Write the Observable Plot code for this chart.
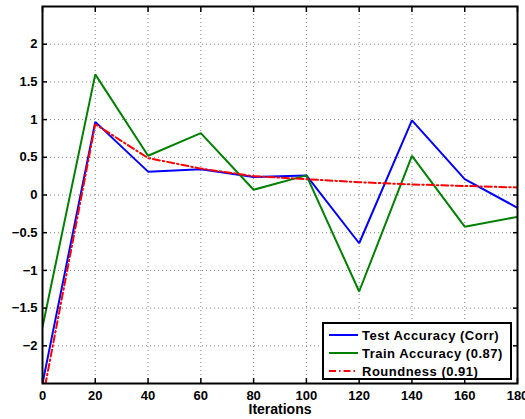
<!DOCTYPE html>
<html>
<head>
<meta charset="utf-8">
<script src="https://cdn.jsdelivr.net/npm/d3@7"></script>
<script src="https://cdn.jsdelivr.net/npm/@observablehq/plot@0.6"></script>
<style>
  html, body { margin: 0; padding: 0; background: #fff; }
  #wrap { position: relative; width: 525px; height: 419px; }
  #wrap svg text { font-family: "Liberation Sans", Arial, sans-serif !important; font-size: 13px !important; font-weight: bold !important; fill: #000; }
  #wrap svg g.xlabel text { font-size: 14px !important; }
  #legend {
    position: absolute; left: 322px; top: 322px; width: 186px; height: 54px;
    border: 2px solid #000; background: #fff;
    font: bold 13px "Liberation Sans", Arial, sans-serif; color: #000; letter-spacing: 0.5px;
  }
  .row { position: absolute; left: 0; height: 18px; display: flex; align-items: center; white-space: nowrap; }
  .row svg { margin-left: 5px; margin-right: 4px; }
</style>
</head>
<body>
<div id="wrap"></div>
<script>
const iterations = [0, 20, 40, 60, 80, 100, 120, 140, 160, 180];
const testAcc   = [-2.5, 0.97, 0.31, 0.34, 0.24, 0.26, -0.64, 0.99, 0.21, -0.17];
const trainAcc  = [-1.75, 1.60, 0.52, 0.82, 0.07, 0.26, -1.28, 0.52, -0.42, -0.29];
const roundness = [-2.71, 0.94, 0.49, 0.35, 0.25, 0.21, 0.17, 0.14, 0.12, 0.10];

const seriesNames = ["Test Accuracy (Corr)", "Train Accuracy (0.87)", "Roundness (0.91)"];
const seriesColors = ["#0000ff", "#008000", "#ff0000"];
const seriesDash = [null, null, "7,3,1.5,3"];
const xTicks = [0, 20, 40, 60, 80, 100, 120, 140, 160, 180];
const yTicks = [-2, -1.5, -1, -0.5, 0, 0.5, 1, 1.5, 2];
const xLabel = "Iterations";

const seriesValues = [testAcc, trainAcc, roundness];
const rows = [];
seriesValues.forEach((vals, s) => vals.forEach((v, i) => rows.push({series: seriesNames[s], x: iterations[i], y: v})));

const gridStyle = {stroke: "#808080", strokeOpacity: 1, strokeWidth: 1, strokeDasharray: "1,3"};
const font = "'Liberation Sans', Arial, sans-serif";

const lineMarks = seriesNames.map((name, s) =>
  Plot.line(rows.filter(d => d.series === name), {
    x: "x", y: "y", stroke: seriesColors[s], strokeWidth: 2,
    strokeDasharray: seriesDash[s], clip: true, strokeLinejoin: "miter"
  })
);

const chart = Plot.plot({
  width: 525,
  height: 419,
  marginLeft: 42,
  marginRight: 8,
  marginTop: 6,
  marginBottom: 36,
  style: {fontFamily: font, fontSize: "13px", fontWeight: "bold", color: "#000", background: "#fff", overflow: "visible"},
  x: {domain: [0, 180]},
  y: {domain: [-2.5, 2.5]},
  marks: [
    Plot.gridX(xTicks.slice(1, -1), gridStyle),
    Plot.gridY(yTicks, gridStyle),
    ...lineMarks,
    Plot.axisX(xTicks, {anchor: "bottom", tickSize: 0, tickPadding: 7, label: null, fill: "#000", fontSize: 13}),
    Plot.axisY(yTicks, {anchor: "left", tickSize: 0, tickPadding: 5, label: null, fill: "#000", fontSize: 13, tickFormat: d => d3.format("")(d).replace("-", "\u2212")}),
    Plot.axisX(xTicks, {anchor: "bottom", tickSize: -5, text: null, label: null, strokeWidth: 1.5}),
    Plot.axisX(xTicks, {anchor: "top", tickSize: -5, text: null, label: null, strokeWidth: 1.5}),
    Plot.axisY(yTicks, {anchor: "left", tickSize: -5, text: null, label: null, strokeWidth: 1.5}),
    Plot.axisY(yTicks, {anchor: "right", tickSize: -5, text: null, label: null, strokeWidth: 1.5}),
    Plot.frame({stroke: "#000", strokeWidth: 2}),
    Plot.text([xLabel], {frameAnchor: "bottom", lineAnchor: "middle", dy: 26.5, text: d => d, fill: "#000", fontSize: 14, className: "xlabel"})
  ]
});

const wrap = document.getElementById("wrap");
wrap.appendChild(chart);

const legend = document.createElement("div");
legend.id = "legend";
seriesNames.forEach((name, s) => {
  const row = document.createElement("div");
  row.className = "row";
  row.style.top = (2 + s * 18) + "px";
  const dash = seriesDash[s] ? `stroke-dasharray="${seriesDash[s]}"` : "";
  row.innerHTML = `<svg width="29" height="4"><line x1="0" y1="2" x2="29" y2="2" stroke="${seriesColors[s]}" stroke-width="2" ${dash}/></svg><span>${name}</span>`;
  legend.appendChild(row);
});
wrap.appendChild(legend);
</script>
</body>
</html>
